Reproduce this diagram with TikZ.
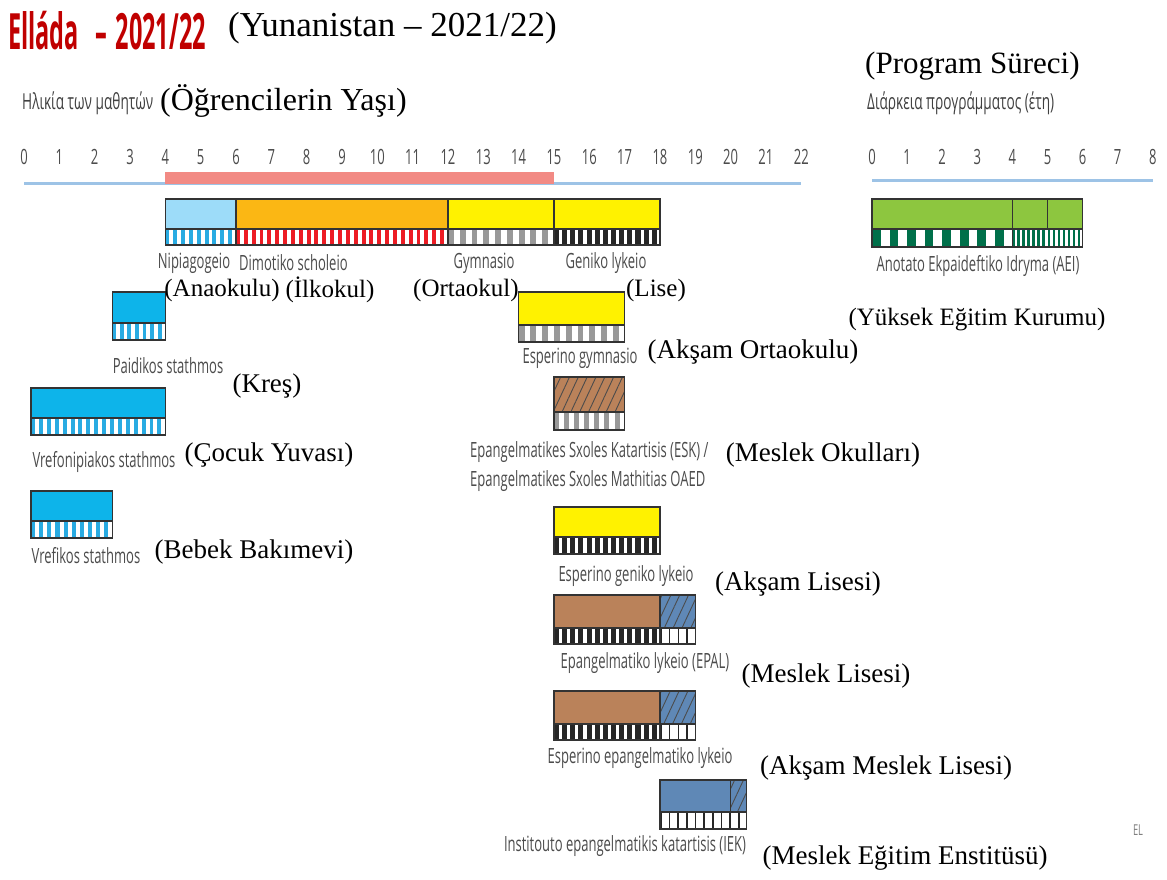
\documentclass[tikz,border=0pt]{standalone}
\usepackage{fontspec}
\setmainfont{Liberation Serif}
\newfontfamily\narrowsf[FakeStretch=0.62]{Open Sans}
\newfontfamily\titlesf[FakeStretch=0.47]{Open Sans}
\usetikzlibrary{positioning,patterns.meta}
\definecolor{pinkband}{HTML}{F28A84}
\definecolor{axisblue}{HTML}{9DC3E6}
\definecolor{lightsky}{HTML}{9DDCF9}
\definecolor{cyanbar}{HTML}{0DB4EA}
\definecolor{orangebar}{HTML}{FBB714}
\definecolor{yellowbar}{HTML}{FFF200}
\definecolor{brownbar}{HTML}{BA825A}
\definecolor{steelbar}{HTML}{5F88B6}
\definecolor{greenbar}{HTML}{8DC63F}
\definecolor{darkgreen}{HTML}{00704A}
\definecolor{stripeblue}{HTML}{29ABE2}
\definecolor{stripered}{HTML}{ED1C24}
\definecolor{titlered}{HTML}{C00000}
\tikzset{
  boxline/.style={draw=black!80,line width=1.2pt},
  grlabel/.style={font=\narrowsf\fontsize{21}{25}\selectfont,text=black!70,inner sep=0pt},
  ticklabel/.style={font=\narrowsf\fontsize{21}{23}\selectfont,text=black!70,inner sep=0pt},
  trlabel/.style={font=\fontsize{27}{30}\selectfont,inner sep=0pt},
  rowlabel/.style={font=\fontsize{25}{28}\selectfont,inner sep=0pt},
}
% coloured box: x1, x2, ytop, ybot, fill
\newcommand{\eduBox}[5]{\filldraw[fill=#5,boxline] (#1,#3) rectangle (#2,#4);}
% hatched box: x1, x2, ytop, ybot, fill
\newcommand{\hatchBox}[5]{\fill[#5] (#1,#3) rectangle (#2,#4);
  \fill[pattern={Lines[angle=65,distance=8pt,line width=0.9pt]},pattern color=black!70] (#1,#3) rectangle (#2,#4);
  \draw[boxline] (#1,#3) rectangle (#2,#4);}
% striped strip: x1, x2, ytop, ybot, colour, count, fraction
\newcommand{\stripBar}[7]{\fill[white] (#1,#3) rectangle (#2,#4);
  \pgfmathsetmacro{\stw}{(#2-#1)/#6}
  \foreach \k in {1,...,#6}{\fill[#5] ({#1+(\k-1)*\stw},#3) rectangle ({#1+(\k-1+#7)*\stw},#4);}
  \draw[boxline] (#1,#3) rectangle (#2,#4);}

\begin{document}
\begin{tikzpicture}[x=1pt,y=-1pt]
  \useasboundingbox[fill=white] (0,0) rectangle (1167,879);

  % headings
  \node[anchor=west,inner sep=0pt,text=titlered,font=\titlesf\bfseries\fontsize{50}{54}\selectfont] (title) at (8,31) {Elláda\,\,–\,2021/22};
  \node[anchor=west,inner sep=0pt,font=\fontsize{35}{38}\selectfont] (titletr) at (228,28) {(Yunanistan – 2021/22)};
  \node[anchor=west,inner sep=0pt,font=\narrowsf\fontsize{22}{25}\selectfont,text=black!75] (agehead) at (22,103) {Ηλικία των μαθητών};
  \node[anchor=west,inner sep=0pt,font=\fontsize{32}{35}\selectfont] (ageheadtr) at (160,101) {(Öğrencilerin Yaşı)};
  \node[anchor=west,inner sep=0pt,font=\fontsize{31}{34}\selectfont] (durheadtr) at (865,66) {(Program Süreci)};
  \node[anchor=west,inner sep=0pt,font=\narrowsf\fontsize{22}{25}\selectfont,text=black!75] (durhead) at (867,103) {Διάρκεια προγράμματος (έτη)};

  % axes
  \draw[axisblue,line width=3pt] (24,183) -- (801,183);
  \fill[pinkband] (165,172) rectangle (554,184);
  \draw[axisblue,line width=3pt] (872,180) -- (1153,180);

  % age scale
  \begin{scope}[xshift=24pt,x=35.33pt]
    \foreach \a in {0,...,22} \node[ticklabel] (age\a) at (\a,157) {\a};
    % main row
    \eduBox{4}{6}{199}{229}{lightsky}
    \eduBox{6}{12}{199}{229}{orangebar}
    \eduBox{12}{15}{199}{229}{yellowbar}
    \eduBox{15}{18}{199}{229}{yellowbar}
    \stripBar{4}{6}{229}{245}{stripeblue}{9}{0.5}
    \stripBar{6}{12}{229}{245}{stripered}{27}{0.5}
    \stripBar{12}{15}{229}{245}{black!40}{9}{0.5}
    \stripBar{15}{18}{229}{245}{black!85}{13}{0.62}
    % early childhood
    \eduBox{2.5}{4}{292}{323}{cyanbar}
    \stripBar{2.5}{4}{323}{340}{stripeblue}{7}{0.5}
    \eduBox{0.2}{4}{388}{418}{cyanbar}
    \stripBar{0.2}{4}{418}{435}{stripeblue}{17}{0.5}
    \eduBox{0.2}{2.5}{491}{521}{cyanbar}
    \stripBar{0.2}{2.5}{521}{538}{stripeblue}{10}{0.5}
    % evening and vocational
    \eduBox{14}{17}{292}{325}{yellowbar}
    \stripBar{14}{17}{325}{342}{black!40}{9}{0.5}
    \hatchBox{15}{17}{377}{412}{brownbar}
    \stripBar{15}{17}{412}{430}{black!40}{7}{0.5}
    \eduBox{15}{18}{507}{537}{yellowbar}
    \stripBar{15}{18}{537}{554}{black!85}{13}{0.62}
    \eduBox{15}{18}{595}{628}{brownbar}
    \hatchBox{18}{19}{595}{628}{steelbar}
    \stripBar{15}{18}{628}{644}{black!85}{13}{0.62}
    \stripBar{18}{19}{628}{644}{black!85}{4}{0.18}
    \eduBox{15}{18}{691}{724}{brownbar}
    \hatchBox{18}{19}{691}{724}{steelbar}
    \stripBar{15}{18}{724}{740}{black!85}{13}{0.62}
    \stripBar{18}{19}{724}{740}{black!85}{4}{0.18}
    \eduBox{18}{20}{780}{812}{steelbar}
    \hatchBox{20}{20.46}{780}{812}{steelbar}
    \stripBar{18}{20.46}{812}{829}{black!85}{10}{0.18}
  \end{scope}

  % duration scale
  \begin{scope}[xshift=872pt,x=35.1pt]
    \foreach \d in {0,...,8} \node[ticklabel] (dur\d) at (\d,157) {\d};
    \eduBox{0}{4}{199}{229}{greenbar}
    \eduBox{4}{5}{199}{229}{greenbar}
    \eduBox{5}{6}{199}{229}{greenbar}
    \stripBar{0}{4}{229}{247}{darkgreen}{8}{0.5}
    \stripBar{4}{6}{229}{247}{darkgreen}{14}{0.5}
  \end{scope}

  % school names
  \node[grlabel] (nipia) at (194,263) {Nipiagogeio};
  \node[grlabel,anchor=west] (dimot) at (239,263) {Dimotiko scholeio};
  \node[grlabel] (gymn) at (484,263) {Gymnasio};
  \node[grlabel] (genik) at (606,263) {Geniko lykeio};
  \node[grlabel] (paid) at (168,366) {Paidikos stathmos};
  \node[grlabel] (vrefon) at (104,462) {Vrefonipiakos stathmos};
  \node[grlabel] (vref) at (86,556) {Vrefikos stathmos};
  \node[grlabel] (espgym) at (580,358) {Esperino gymnasio};
  \node[grlabel,anchor=north west,align=left,font=\narrowsf\fontsize{21}{29}\selectfont] (esk) at (470,441) {Epangelmatikes Sxoles Katartisis (ESK) /\\Epangelmatikes Sxoles Mathitias OAED};
  \node[grlabel] (espgen) at (626,576) {Esperino geniko lykeio};
  \node[grlabel] (epal) at (645,663) {Epangelmatiko lykeio (EPAL)};
  \node[grlabel] (espepal) at (640,758) {Esperino epangelmatiko lykeio};
  \node[grlabel] (iek) at (625,846) {Institouto epangelmatikis katartisis (IEK)};
  \node[grlabel] (aei) at (978,266) {Anotato Ekpaideftiko Idryma (AEI)};
  \node[grlabel,font=\narrowsf\fontsize{15}{17}\selectfont,text=black!50] (el) at (1138,830) {EL};

  % Turkish names
  \node[rowlabel] (nipiatr) at (222,290) {(Anaokulu)};
  \node[rowlabel] (dimottr) at (330,290) {(İlkokul)};
  \node[rowlabel] (gymntr) at (466,290) {(Ortaokul)};
  \node[rowlabel] (geniktr) at (656,290) {(Lise)};
  \node[trlabel] (paidtr) at (267,386) {(Kreş)};
  \node[trlabel] (vrefontr) at (269,455) {(Çocuk Yuvası)};
  \node[trlabel] (vreftr) at (254,552) {(Bebek Bakımevi)};
  \node[trlabel] (espgymtr) at (753,352) {(Akşam Ortaokulu)};
  \node[trlabel] (esktr) at (823,455) {(Meslek Okulları)};
  \node[trlabel] (espgentr) at (798,584) {(Akşam Lisesi)};
  \node[trlabel] (epaltr) at (826,676) {(Meslek Lisesi)};
  \node[trlabel] (espepaltr) at (886,768) {(Akşam Meslek Lisesi)};
  \node[trlabel] (iektr) at (905,858) {(Meslek Eğitim Enstitüsü)};
  \node[rowlabel] (aeitr) at (977,320) {(Yüksek Eğitim Kurumu)};
\end{tikzpicture}
\end{document}
